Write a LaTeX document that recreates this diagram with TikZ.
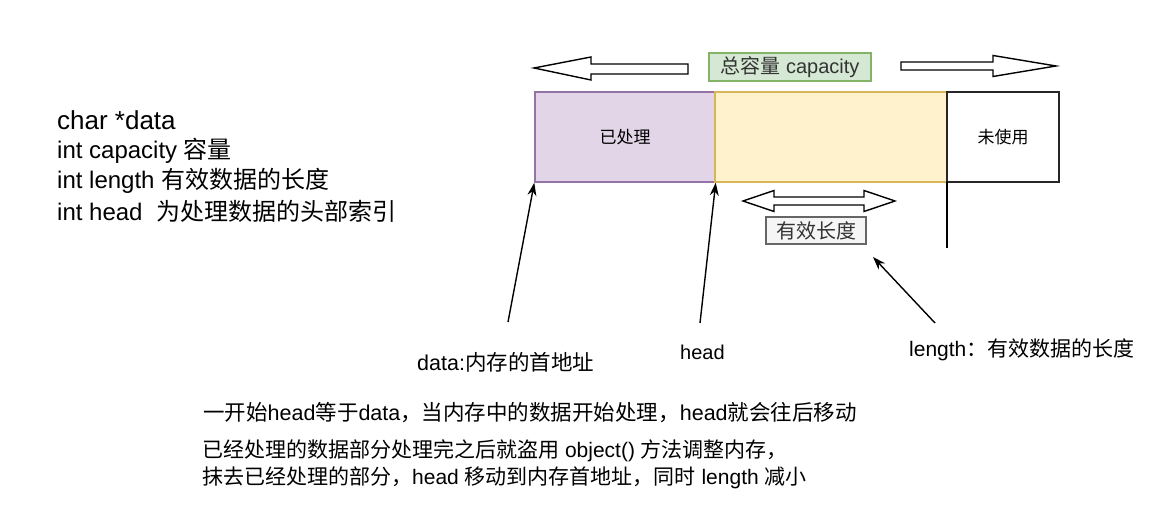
\documentclass[tikz,border=0pt]{standalone}
\usepackage{fontspec}
\setmainfont{Liberation Sans}
\newfontfamily\cjk{Noto Sans CJK SC}
\newcommand{\zh}[1]{{\cjk #1}}
\usetikzlibrary{arrows.meta}
\definecolor{purfill}{HTML}{E1D5E7}
\definecolor{purline}{HTML}{9673A6}
\definecolor{yelfill}{HTML}{FFF2CC}
\definecolor{yelline}{HTML}{D6B656}
\definecolor{grnfill}{HTML}{D5E8D4}
\definecolor{grnline}{HTML}{82B366}
\definecolor{gryfill}{HTML}{F5F5F5}
\definecolor{gryline}{HTML}{666666}
\definecolor{txt}{HTML}{333333}
\tikzset{
  fs/.style={font=\fontsize{#1pt}{#1pt}\selectfont},
  cell/.style={minimum height=90pt, inner sep=0pt, line width=1.4pt},
  blockarrow/.style={draw=black, fill=white, line width=1.4pt, line join=miter},
  pointer/.style={draw=black, line width=1.4pt, -{Stealth[length=13pt,width=9pt]}},
  plain/.style={inner sep=0pt, anchor=west, text=black},
}
\begin{document}
\begin{tikzpicture}[x=1pt,y=-1pt]
\useasboundingbox (0,0) rectangle (1170,510);
% memory cells
\node[cell, draw=purline, fill=purfill, minimum width=180pt, fs=17] (done) at (625,137) {\zh{已处理}};
\node[cell, draw=yelline, fill=yelfill, minimum width=232pt] (valid) at (831,137) {};
\node[cell, draw=black!85, fill=white, minimum width=112pt, line width=1.8pt, fs=17] (unused) at (1003,137) {\zh{未使用}};
\coordinate (vtop) at (947,182);
\coordinate (vbot) at (947,248);
\draw[line width=1.8pt] (vtop) -- (vbot);
% capacity label and block arrows
\node[draw=grnline, fill=grnfill, line width=1.2pt, minimum width=162pt, minimum height=28pt, inner sep=0pt, fs=20, text=txt] (cap) at (790,67) {\zh{总容量} capacity};
\draw[blockarrow] (534,68) -- (591,57) -- (591,64) -- (688,64) -- (688,74) -- (591,74) -- (591,80) -- cycle;
\draw[blockarrow] (1056,66) -- (993,55.5) -- (993,62) -- (901,62) -- (901,70) -- (993,70) -- (993,76.5) -- cycle;
% valid length double arrow
\draw[blockarrow] (743,201) -- (774,190.5) -- (774,197) -- (864,197) -- (864,190.5) -- (895,201) -- (864,211.5) -- (864,205) -- (774,205) -- (774,211.5) -- cycle;
\node[draw=gryline, fill=gryfill, line width=1.2pt, minimum width=100pt, minimum height=27pt, inner sep=0pt, fs=20, text=txt] (vlen) at (816,230.5) {\zh{有效长度}};
% left description
\node[plain, fs=26] (l1) at (57,120) {char *data};
\node[plain, fs=24] (l2) at (57,151) {int capacity \zh{容量}};
\node[plain, fs=24] (l3) at (57,181) {int length \zh{有效数据的长度}};
\node[plain, fs=24] (l4) at (57,211) {int head\hspace{14pt}\zh{为处理数据的头部索引}};
% pointer labels
\node[plain, fs=21.5] (ldata) at (417,362) {data:\zh{内存的首地址}};
\node[plain, fs=20] (lhead) at (680,352) {head};
\node[plain, fs=21] (llen) at (909,350) {length\zh{：有效数据的长度}};
% pointers
\coordinate (pdata) at (508,322);
\coordinate (phead) at (700,323);
\coordinate (plen) at (935,323);
\coordinate (plentip) at (873,257);
\draw[pointer] (pdata) -- (done.south west);
\draw[pointer] (phead) -- (done.south east);
\draw[pointer] (plen) -- (plentip);
% bottom notes
\node[plain, fs=21.5] (n1) at (203,413) {\zh{一开始}head\zh{等于}data\zh{，当内存中的数据开始处理，}head\zh{就会往后移动}};
\node[plain, fs=21] (n2) at (202,451) {\zh{已经处理的数据部分处理完之后就盗用} object() \zh{方法调整内存，}};
\node[plain, fs=21] (n3) at (202,478) {\zh{抹去已经处理的部分，}head \zh{移动到内存首地址，同时} length \zh{减小}};
\end{tikzpicture}
\end{document}
